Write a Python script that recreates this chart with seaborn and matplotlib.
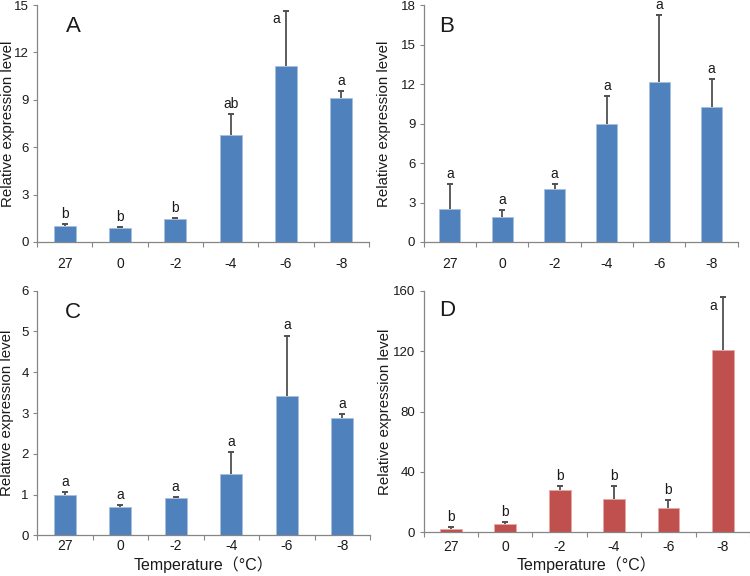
import numpy as np
import pandas as pd
import matplotlib
matplotlib.use("Agg")
import matplotlib.pyplot as plt
import seaborn as sns

temps = ['27', '0', '-2', '-4', '-6', '-8']

A_mean = [1.0, 0.87, 1.45, 6.78, 11.15, 9.1]
A_err = [0.15, 0.08, 0.05, 1.3, 3.5, 0.45]
A_letters = ['b', 'b', 'b', 'ab', 'a', 'a']

B_mean = [2.5, 1.9, 4.06, 8.95, 12.15, 10.24]
B_err = [1.93, 0.52, 0.38, 2.15, 5.12, 2.18]
B_letters = ['a', 'a', 'a', 'a', 'a', 'a']

C_mean = [1.0, 0.69, 0.91, 1.51, 3.42, 2.88]
C_err = [0.07, 0.06, 0.03, 0.54, 1.48, 0.1]
C_letters = ['a', 'a', 'a', 'a', 'a', 'a']

D_mean = [2.2, 5.7, 27.8, 22.3, 16.1, 121.0]
D_err = [1.6, 1.1, 2.7, 8.6, 5.1, 34.7]
D_letters = ['b', 'b', 'b', 'b', 'b', 'a']

y_max = [15, 18, 6, 160]
y_step = [3, 3, 1, 40]
panel_names = ['A', 'B', 'C', 'D']

sns.set_style('ticks')
plt.rcParams['font.family'] = ['Liberation Sans', 'Noto Sans CJK SC', 'DejaVu Sans']

W, H = 750, 576
fig = plt.figure(figsize=(W / 100, H / 100), dpi=100)

def px_axes(left, top, right, bottom):
    return fig.add_axes([left / W, 1 - bottom / H, (right - left) / W, (bottom - top) / H])

axes = [
    px_axes(37, 5, 369, 242),
    px_axes(423.7, 5.3, 737.7, 242),
    px_axes(37, 290.7, 370, 535.3),
    px_axes(423.7, 290.7, 750, 532.3),
]

blue = '#4F81BD'
red = '#C0504D'
colors = [blue, blue, blue, red]
edges = ['#a7bfde', '#a7bfde', '#a7bfde', '#e6a9a7']
spine_c = '#868686'
err_c = '#505050'

datasets = [(A_mean, A_err, A_letters), (B_mean, B_err, B_letters),
            (C_mean, C_err, C_letters), (D_mean, D_err, D_letters)]

# special label placements (left of error bar) : (panel, index)
side_labels = {(0, 4), (3, 5)}
xtick_pad = [10.5, 10.5, 2.5, 5.5]
ylab_x = [-0.087, -0.125, -0.089, -0.118]
letter_pos = [(0.111, 0.911), (0.072, 0.912), (0.107, 0.91), (0.073, 0.917)]

for i, ax in enumerate(axes):
    mean, err, letters = datasets[i]
    df = pd.DataFrame({'Temperature': temps, 'value': mean})
    sns.barplot(data=df, x='Temperature', y='value', order=temps, ax=ax,
                color=colors[i], saturation=1, width=0.4,
                edgecolor=edges[i], linewidth=0.6, errorbar=None)
    xs = np.arange(len(temps))
    mean_a = np.array(mean)
    err_a = np.array(err)
    ax.errorbar(xs, mean_a, yerr=[np.zeros(len(xs)), err_a], fmt='none',
                ecolor=err_c, elinewidth=1.3, capsize=0, zorder=3)
    ax.plot(xs, mean_a + err_a, linestyle='none', marker='_', markersize=4,
            markeredgewidth=1.4, color=err_c, zorder=4)
    for j, lab in enumerate(letters):
        top = mean_a[j] + err_a[j]
        if (i, j) in side_labels:
            ax.annotate(lab, (xs[j], top), xytext=(-7, -1), textcoords='offset points',
                        ha='center', va='top', fontsize=10, color='#1a1a1a')
        else:
            ax.annotate(lab, (xs[j], top), xytext=(0, 2.2), textcoords='offset points',
                        ha='center', va='bottom', fontsize=10, color='#1a1a1a',
                        annotation_clip=False)

    ax.set_xlim(-0.5, len(temps) - 0.5)
    ax.set_ylim(0, y_max[i])
    ax.set_yticks(np.arange(0, y_max[i] + 0.001, y_step[i]))
    ax.set_xticks(np.arange(-0.5, len(temps)), minor=True)
    ax.tick_params(axis='x', which='major', length=0, pad=xtick_pad[i], labelsize=10, colors='#1a1a1a')
    ax.tick_params(axis='x', which='minor', length=3.5, width=0.8, color=spine_c, direction='out')
    ax.tick_params(axis='y', which='major', length=3, width=0.8, color=spine_c,
                   labelcolor='#1a1a1a', labelsize=9.5, pad=3)
    for s in ['top', 'right']:
        ax.spines[s].set_visible(False)
    for s in ['left', 'bottom']:
        ax.spines[s].set_color(spine_c)
        ax.spines[s].set_linewidth(0.9)

    ax.set_ylabel('Relative expression level', fontsize=10.8, color='#1a1a1a')
    ax.yaxis.set_label_coords(ylab_x[i], 0.5)
    ax.yaxis.label.set_va('center')
    if i >= 2:
        ax.set_xlabel('Temperature（°C）', fontsize=11.5, color='#1a1a1a')
        ax.xaxis.label.set_va('center')
        ax.xaxis.set_label_coords(0.5, -0.1214 if i == 2 else -0.1353)
    else:
        ax.set_xlabel('')

    ax.text(letter_pos[i][0], letter_pos[i][1], panel_names[i], transform=ax.transAxes,
            ha='center', va='center', fontsize=16, color='#1a1a1a')

fig.savefig('out.png', dpi=100)
